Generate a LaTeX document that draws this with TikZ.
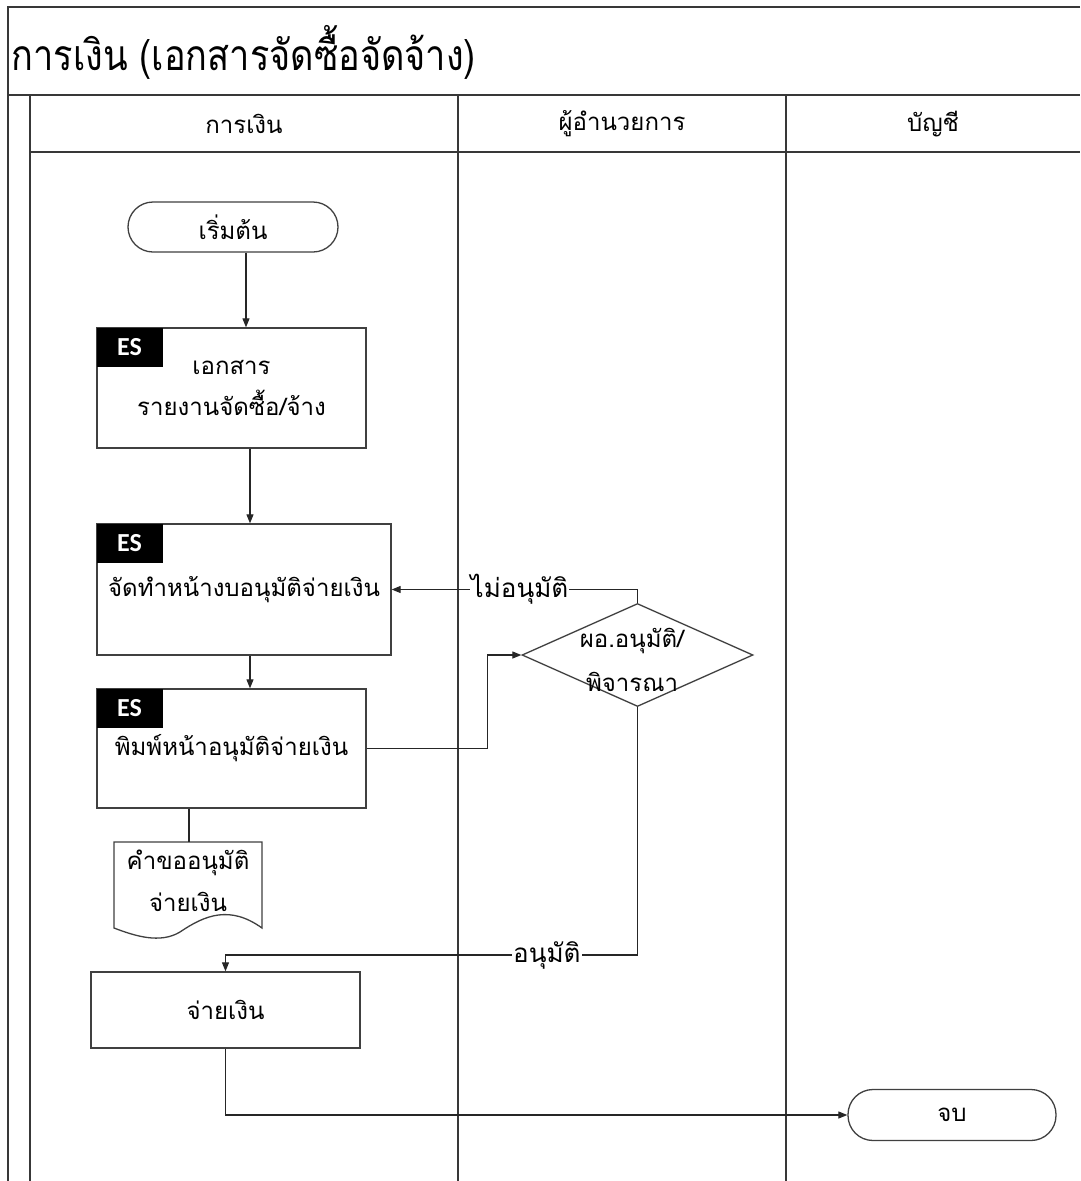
\documentclass[tikz,border=0pt]{standalone}
\usepackage{fontspec}
\usetikzlibrary{arrows.meta,shapes.geometric,calc}
\newfontfamily\thai[Script=Thai]{Loma}
\newfontfamily\tagfont{Carlito}
\newcommand{\thaisize}[1]{\thai\fontsize{#1}{#1}\selectfont}

\begin{document}
\begin{tikzpicture}[x=1pt,y=-1pt,
  frame/.style={draw=black!78,line width=1.8pt},
  procbox/.style={draw=black!75,line width=1.3pt,fill=white,rectangle,inner sep=0pt,
    align=center,font=\thaisize{24}},
  termbox/.style={procbox,rounded corners=25pt},
  estag/.style={fill=black,text=white,inner sep=0pt,minimum width=66pt,minimum height=39pt,
    font=\tagfont\bfseries\fontsize{26}{26}\selectfont,anchor=north west},
  link/.style={draw=black!85,line width=1.1pt},
  arr/.style={link,-{Triangle[length=9pt,width=7pt]}},
  flowlabel/.style={fill=white,inner sep=1pt,font=\thaisize{26}},
]
% page
\useasboundingbox (0,0) rectangle (1080,1181);
\fill[white] (0,0) rectangle (1080,1181);

% pool frame, header row and lanes
\draw[frame] (1080,7) -- (8,7) -- (8,1181);
\draw[frame] (8,95) -- (1080,95);
\draw[frame] (30,152) -- (1080,152);
\draw[frame] (30,95) -- (30,1181);
\draw[frame] (458,95) -- (458,1181);
\draw[frame] (786,95) -- (786,1181);

\node[anchor=west,font=\thaisize{38}] (title) at (8,52)
  {\scalebox{0.95}[1.12]{การเงิน (เอกสารจัดซื้อจัดจ้าง)}};
\node[font=\thaisize{24}] (lane1) at (244,124) {การเงิน};
\node[font=\thaisize{24}] (lane2) at (622,124) {ผู้อำนวยการ};
\node[font=\thaisize{24}] (lane3) at (933,124) {บัญชี};

% process nodes
\node[termbox,minimum width=210pt,minimum height=50pt] (start) at (233,227) {เริ่มต้น};
\node[procbox,minimum width=269pt,minimum height=120pt] (box1) at (231.5,388)
  {เอกสาร\\[14pt]รายงานจัดซื้อ/จ้าง};
\node[estag] (tag1) at (box1.north west) {ES};
\node[procbox,minimum width=294pt,minimum height=131pt] (box2) at (244,589.5)
  {จัดทำหน้างบอนุมัติจ่ายเงิน};
\node[estag] (tag2) at (box2.north west) {ES};
\node[procbox,minimum width=269pt,minimum height=119pt] (box3) at (231.5,748.5)
  {พิมพ์หน้าอนุมัติจ่ายเงิน};
\node[estag] (tag3) at (box3.north west) {ES};
\node[procbox,minimum width=269pt,minimum height=76pt] (box4) at (225.5,1010) {จ่ายเงิน};
\node[termbox,minimum width=208pt,minimum height=51pt] (stop) at (952,1115) {จบ};

% decision
\node[diamond,draw=black!75,line width=1.3pt,minimum width=231pt,minimum height=103pt,
  inner sep=0pt] (dec) at (637.5,655) {};
\node[align=center,font=\thaisize{24}] (dectext) at (632,660) {ผอ.อนุมัติ/\\[18pt]พิจารณา};

% document
\coordinate (doctop) at (189,842);
\draw[draw=black!75,line width=1.3pt,fill=white] (114,842) -- (262,842) -- (262,928)
  .. controls (230,905) and (205,915) .. (180,932)
  .. controls (160,944) and (135,936) .. (114,928) -- cycle;
\node[align=center,font=\thaisize{24}] (doc) at (188,881) {คำขออนุมัติ\\[16pt]จ่ายเงิน};

% vertical guides for the connectors in the first lane
\coordinate (col1) at (246,0);
\coordinate (col2) at (250,0);

% connectors
\draw[arr] (col1 |- start.south) -- (col1 |- box1.north);
\draw[arr] (col2 |- box1.south) -- (col2 |- box2.north);
\draw[arr] (col2 |- box2.south) -- (col2 |- box3.north);
\draw[link] (box3.south -| doctop) -- (doctop);
\draw[arr] (box3.east) -- ++(121,0) |- (dec.west);
\draw[arr] (dec.north) |- node[flowlabel,pos=0.74] {ไม่อนุมัติ} (box2.east);
\coordinate (turn) at (637.5,955);
\draw[arr] (dec.south) -- (turn) -| node[flowlabel,pos=0.11] {อนุมัติ} (box4.north);
\draw[arr] (box4.south) |- (stop.west);
\end{tikzpicture}
\end{document}
